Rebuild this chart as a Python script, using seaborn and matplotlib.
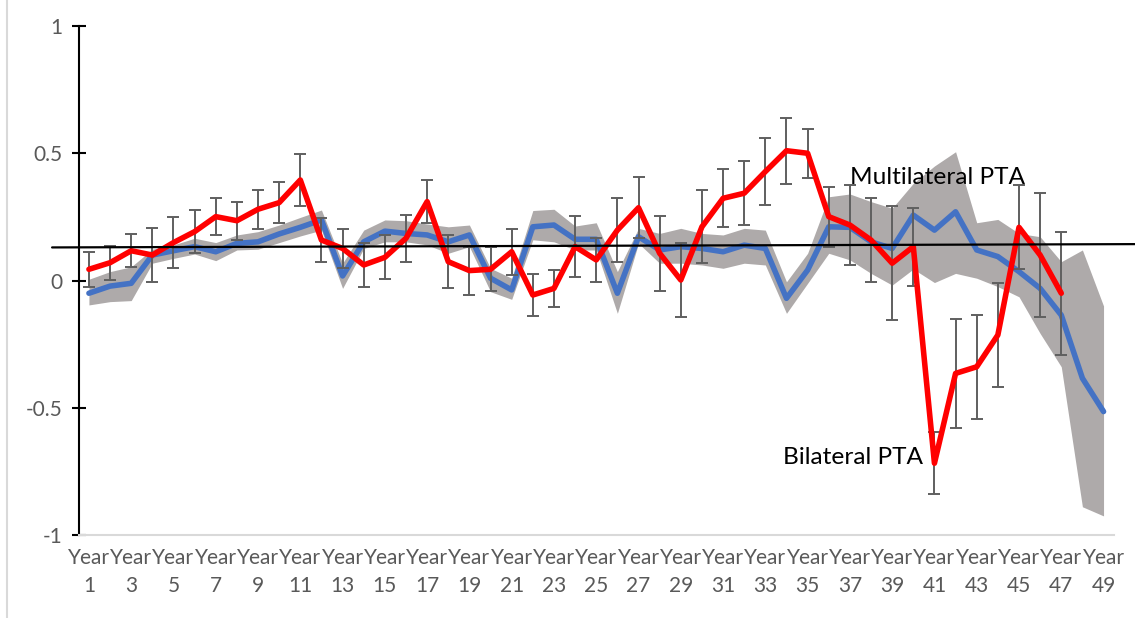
import numpy as np
import pandas as pd
import seaborn as sns
import matplotlib.pyplot as plt
from matplotlib.lines import Line2D

sns.set_theme(style="white")
plt.rcParams["font.family"] = ["Lato", "DejaVu Sans"]

# ---- data ----
years_multi = list(range(1, 50))
years_bi = list(range(1, 48))

bilateral = [0.044, 0.070, 0.117, 0.100, 0.149, 0.192, 0.251, 0.235, 0.280, 0.306,
             0.395, 0.159, 0.126, 0.061, 0.091, 0.166, 0.310, 0.074, 0.039, 0.044,
             0.113, -0.057, -0.031, 0.133, 0.081, 0.198, 0.286, 0.107, 0.002, 0.211,
             0.323, 0.343, 0.428, 0.510, 0.500, 0.251, 0.218, 0.159, 0.068, 0.133,
             -0.718, -0.365, -0.339, -0.214, 0.209, 0.100, -0.050]
bilateral_err = [0.068, 0.067, 0.065, 0.105, 0.100, 0.085, 0.072, 0.074, 0.076, 0.080,
                 0.103, 0.085, 0.075, 0.087, 0.087, 0.093, 0.083, 0.103, 0.094, 0.086,
                 0.090, 0.083, 0.072, 0.120, 0.088, 0.125, 0.120, 0.148, 0.147, 0.144,
                 0.114, 0.126, 0.133, 0.129, 0.097, 0.118, 0.157, 0.165, 0.225, 0.153,
                 0.121, 0.215, 0.204, 0.204, 0.165, 0.244, 0.242]

multilateral = [-0.050, -0.022, -0.011, 0.100, 0.117, 0.133, 0.113, 0.146, 0.152, 0.183,
                0.209, 0.238, 0.018, 0.152, 0.194, 0.185, 0.179, 0.152, 0.179, 0.009,
                -0.037, 0.211, 0.218, 0.162, 0.162, -0.050, 0.172, 0.120, 0.133, 0.126,
                0.113, 0.139, 0.126, -0.070, 0.041, 0.211, 0.209, 0.152, 0.126, 0.257,
                0.198, 0.270, 0.120, 0.094, 0.035, -0.031, -0.136, -0.384, -0.515]
multi_upper = [0.005, 0.035, 0.054, 0.123, 0.140, 0.166, 0.149, 0.179, 0.192, 0.218,
               0.248, 0.277, 0.068, 0.198, 0.238, 0.235, 0.222, 0.211, 0.218, 0.048,
               0.009, 0.275, 0.280, 0.214, 0.227, 0.035, 0.205, 0.185, 0.205, 0.185,
               0.179, 0.205, 0.198, -0.005, 0.107, 0.329, 0.340, 0.310, 0.284, 0.382,
               0.450, 0.506, 0.227, 0.240, 0.185, 0.172, 0.074, 0.120, -0.100]
multi_lower = [-0.096, -0.083, -0.079, 0.068, 0.087, 0.104, 0.078, 0.120, 0.123, 0.149,
               0.175, 0.198, -0.031, 0.126, 0.152, 0.152, 0.140, 0.107, 0.133, -0.044,
               -0.074, 0.160, 0.152, 0.120, 0.120, -0.129, 0.146, 0.068, 0.068, 0.061,
               0.048, 0.068, 0.061, -0.129, -0.011, 0.107, 0.081, 0.028, -0.018, 0.045,
               -0.008, 0.028, 0.009, -0.024, -0.064, -0.208, -0.339, -0.889, -0.925]

ref_line = [0.130, 0.143]   # slightly tilted black reference line (left, right)

df_multi = pd.DataFrame({"year": years_multi, "coef": multilateral,
                         "lo": multi_lower, "hi": multi_upper})
df_bi = pd.DataFrame({"year": years_bi, "coef": bilateral, "err": bilateral_err})

# ---- figure ----
fig = plt.figure(figsize=(11.35, 6.18), dpi=100)
ax = fig.add_axes([0.0696, 0.1343, 0.912, 0.8236])

ax.fill_between(df_multi["year"], df_multi["lo"], df_multi["hi"],
                color="#AEAAAA", linewidth=0, zorder=1)
sns.lineplot(data=df_multi, x="year", y="coef", color="#4472C4", linewidth=4.0,
             ax=ax, zorder=3)
ax.errorbar(df_bi["year"], df_bi["coef"], yerr=df_bi["err"], fmt="none",
            ecolor="#5f5f5f", elinewidth=1.4, capsize=4, capthick=1.4, zorder=4)
sns.lineplot(data=df_bi, x="year", y="coef", color="#FF0000", linewidth=4.0,
             ax=ax, zorder=5)

ax.plot([-0.026, 1.02], ref_line, color="black", linewidth=1.6,
        transform=ax.get_yaxis_transform(), clip_on=False, zorder=6)

ax.text(37.0, 0.403, "Multilateral PTA", fontsize=17.6, ha="left", va="center", color="black")
ax.text(33.83, -0.697, "Bilateral PTA", fontsize=17.6, ha="left", va="center", color="black")

# ---- axes styling ----
ax.set_xlim(0.53, 49.5)
ax.set_ylim(-1, 1)
ax.set_yticks([-1, -0.5, 0, 0.5, 1])
ax.set_yticklabels(["-1", "-0.5", "0", "0.5", "1"])
ax.set_xticks(years_multi[::2])
ax.set_xticklabels([f"Year\n{y}" for y in years_multi[::2]], linespacing=1.55)
ax.set_xlabel("")
ax.set_ylabel("")

for side in ["top", "right"]:
    ax.spines[side].set_visible(False)
ax.spines["left"].set_color("black")
ax.spines["left"].set_linewidth(1.5)
ax.spines["bottom"].set_color("#D9D9D9")
ax.spines["bottom"].set_linewidth(1.5)

ax.tick_params(axis="y", direction="inout", length=10, width=1.5, color="black",
               left=True, labelsize=15, labelcolor="#595959", pad=7)
ax.tick_params(axis="x", length=0, labelsize=15, labelcolor="#595959", pad=9)
ax.grid(False)

fig.add_artist(Line2D([0.006, 0.006], [0, 1], color="#D9D9D9", linewidth=1.5))

fig.savefig("out.png", dpi=100)
